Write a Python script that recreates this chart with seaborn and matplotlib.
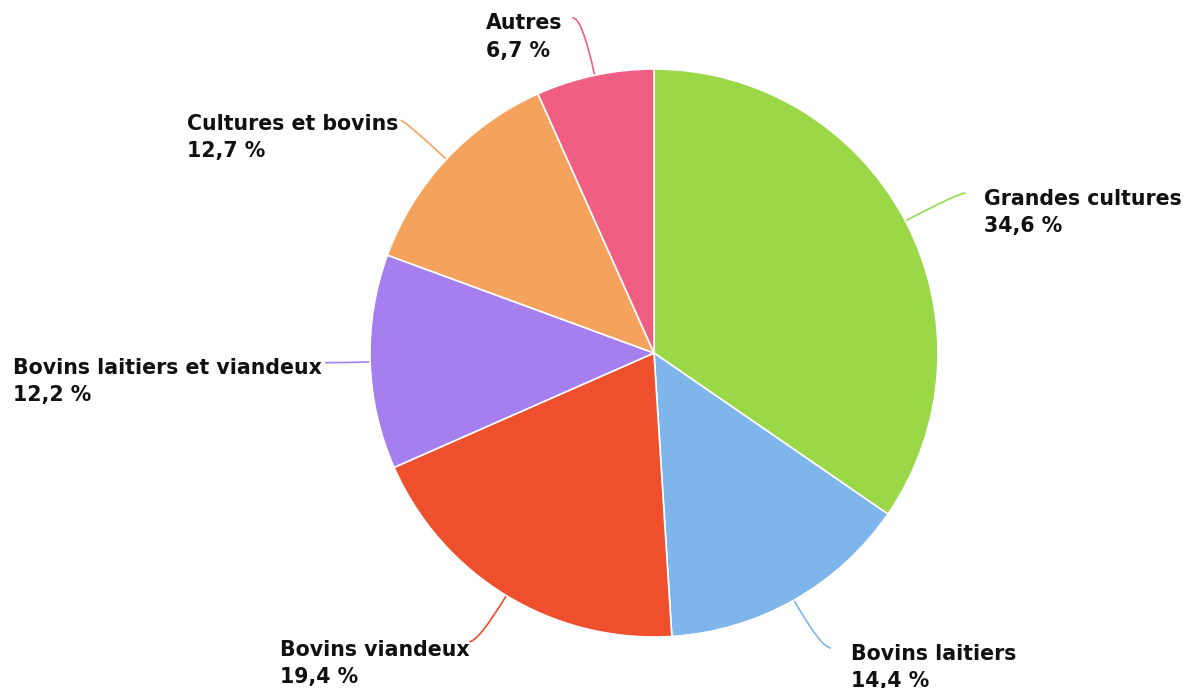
import numpy as np
import matplotlib
matplotlib.use("Agg")
import matplotlib.pyplot as plt
from matplotlib.path import Path
from matplotlib.patches import PathPatch
import seaborn as sns

# ---- data ----
categories = ["Grandes cultures", "Bovins laitiers", "Bovins viandeux",
              "Bovins laitiers et viandeux", "Cultures et bovins", "Autres"]
shares = [34.6, 14.4, 19.4, 12.2, 12.7, 6.7]
value_labels = ["34,6 %", "14,4 %", "19,4 %", "12,2 %", "12,7 %", "6,7 %"]
colors = ["#9bd848", "#7eb5eb", "#ee4f2d", "#a57fed", "#f5a35c", "#f05e84"]

# ---- layout (pixels) ----
W, H = 1186, 688
CX, CY, R = 654, H - 353, 284
LINE_GAP = 27
radial_ext = [60, 55, 54, 25, 57, 59]          # connector radial part
horiz_len = [7, 10, -9, -20, -4, -10]           # connector horizontal hook
text_dx = [18, 20, 0, -3, -2, -10]              # text anchor from connector end
text_dy = [-12, -12, -14, -11, -10, -12]        # first baseline below end

sns.set_theme(style="white")
plt.rcParams["font.family"] = ["DejaVu Sans"]

fig = plt.figure(figsize=(W / 100, H / 100), dpi=100)
ax = fig.add_axes([0, 0, 1, 1])

wedges, _ = ax.pie(shares, colors=colors, startangle=90, counterclock=False,
                   center=(CX, CY), radius=R, frame=True,
                   wedgeprops=dict(edgecolor="white", linewidth=1.2))
ax.set_xlim(0, W)
ax.set_ylim(0, H)
ax.set_aspect("equal")
ax.axis("off")

for w, cat, vl, col, re, hl, tdx, tdy in zip(wedges, categories, value_labels, colors,
                                             radial_ext, horiz_len, text_dx, text_dy):
    ang = np.deg2rad((w.theta1 + w.theta2) / 2)
    d = np.array([np.cos(ang), np.sin(ang)])
    p0 = np.array([CX, CY]) + d * R
    p1 = p0 + d * re
    p2 = p1 + np.array([hl, 0])
    path = Path([p0, p1, p2], [Path.MOVETO, Path.CURVE3, Path.CURVE3])
    ax.add_patch(PathPatch(path, facecolor="none", edgecolor=col, lw=1.2, zorder=0.5))
    ha = "left" if hl > 0 else "right"
    # va='baseline' aligns the last line's baseline
    ax.text(p2[0] + tdx, p2[1] + tdy - LINE_GAP, f"{cat}\n{vl}", ha=ha, va="baseline",
            multialignment="left", fontsize=14.8, fontweight="bold",
            color="#111111", linespacing=1.45)

fig.savefig("out.png", dpi=100, facecolor="white")
